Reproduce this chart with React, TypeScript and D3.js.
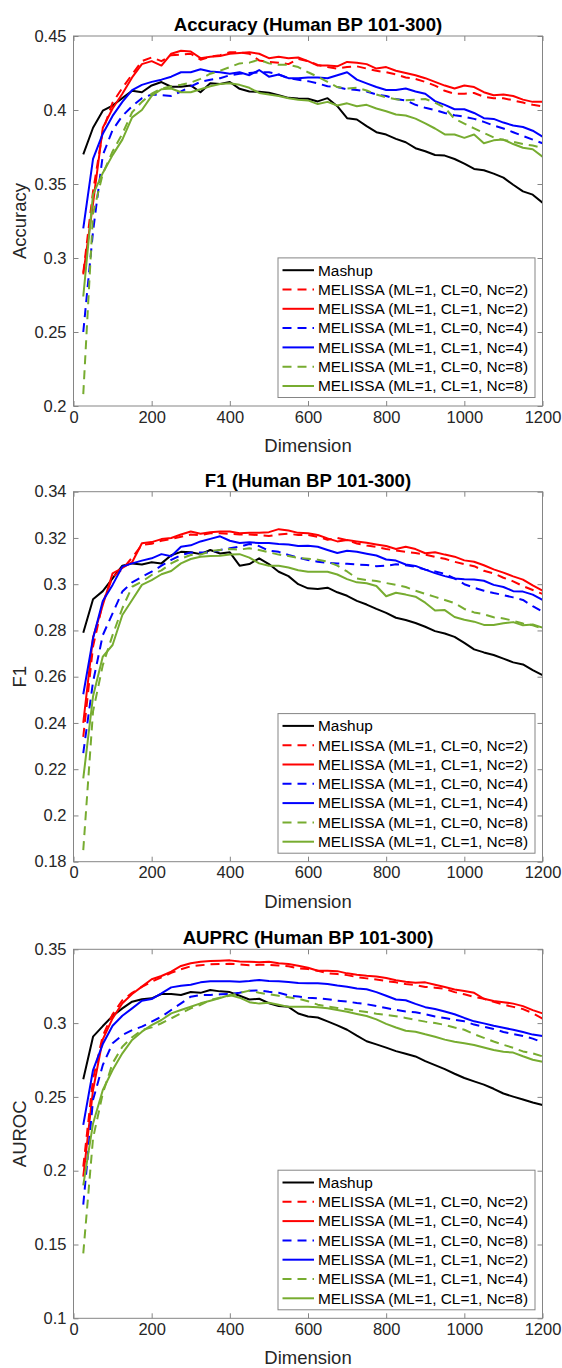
import { useEffect, useRef } from "react";
import * as d3 from "d3";

// ---- data ----
const dims = d3.range(25, 1201, 25);
const xTicks = [0, 200, 400, 600, 800, 1000, 1200];

// Accuracy
const accMashup = [0.370, 0.388, 0.3995, 0.403, 0.408, 0.413, 0.412, 0.4166, 0.4189, 0.4157, 0.4157, 0.4166, 0.412, 0.418, 0.4175, 0.4189, 0.4143, 0.4125, 0.4123, 0.4116, 0.410, 0.4082, 0.4078, 0.4076, 0.4058, 0.408, 0.4026, 0.3945, 0.3936, 0.3891, 0.385, 0.3834, 0.3805, 0.3782, 0.3742, 0.3721, 0.3696, 0.3692, 0.3669, 0.3638, 0.3602, 0.3593, 0.357, 0.3543, 0.3495, 0.345, 0.3428, 0.3374];
const accRedDash = [0.290, 0.345, 0.386, 0.405, 0.415, 0.424, 0.433, 0.4355, 0.433, 0.437, 0.4375, 0.438, 0.434, 0.436, 0.437, 0.439, 0.439, 0.438, 0.4335, 0.4325, 0.432, 0.431, 0.4345, 0.433, 0.4305, 0.429, 0.428, 0.429, 0.4295, 0.428, 0.4265, 0.4255, 0.424, 0.422, 0.421, 0.419, 0.4165, 0.413, 0.411, 0.411, 0.4115, 0.409, 0.408, 0.408, 0.4065, 0.405, 0.4035, 0.4025];
const accRedSolid = [0.289, 0.337, 0.388, 0.401, 0.411, 0.422, 0.431, 0.433, 0.430, 0.438, 0.440, 0.4395, 0.435, 0.436, 0.4365, 0.438, 0.4385, 0.439, 0.438, 0.435, 0.436, 0.435, 0.4355, 0.433, 0.430, 0.430, 0.4295, 0.4325, 0.432, 0.431, 0.428, 0.429, 0.4265, 0.425, 0.4235, 0.4215, 0.419, 0.4165, 0.4145, 0.4165, 0.4155, 0.412, 0.410, 0.4105, 0.4095, 0.407, 0.4055, 0.4055];
const accBlueDash = [0.250, 0.318, 0.3695, 0.3865, 0.396, 0.4025, 0.408, 0.4105, 0.410, 0.4095, 0.4125, 0.416, 0.419, 0.4205, 0.4215, 0.4235, 0.4245, 0.425, 0.4255, 0.4255, 0.424, 0.4215, 0.4205, 0.4195, 0.418, 0.416, 0.4155, 0.414, 0.4135, 0.4125, 0.4105, 0.4095, 0.4075, 0.4065, 0.4035, 0.4015, 0.400, 0.398, 0.3965, 0.3955, 0.394, 0.392, 0.3895, 0.3875, 0.385, 0.3825, 0.380, 0.3775];
const accBlueSolid = [0.320, 0.367, 0.384, 0.396, 0.4055, 0.4135, 0.417, 0.419, 0.4205, 0.4225, 0.4255, 0.4255, 0.4275, 0.426, 0.4255, 0.4245, 0.4255, 0.4235, 0.427, 0.4225, 0.424, 0.4215, 0.4215, 0.422, 0.422, 0.4215, 0.4235, 0.4255, 0.4205, 0.418, 0.4155, 0.4135, 0.4135, 0.4145, 0.4125, 0.411, 0.406, 0.4035, 0.4005, 0.4005, 0.398, 0.3945, 0.394, 0.3915, 0.3895, 0.3885, 0.386, 0.382];
const accGreenDash = [0.208, 0.330, 0.357, 0.372, 0.384, 0.3985, 0.4055, 0.411, 0.4145, 0.416, 0.417, 0.4185, 0.421, 0.4245, 0.4265, 0.429, 0.4315, 0.432, 0.434, 0.4315, 0.4305, 0.4305, 0.429, 0.4255, 0.4225, 0.419, 0.4155, 0.4145, 0.415, 0.4132, 0.4105, 0.4085, 0.4072, 0.4066, 0.407, 0.4074, 0.405, 0.4015, 0.394, 0.3908, 0.3876, 0.3845, 0.3815, 0.3798, 0.3785, 0.377, 0.376, 0.3744];
const accGreenSolid = [0.274, 0.343, 0.3575, 0.3695, 0.380, 0.395, 0.400, 0.4095, 0.414, 0.4145, 0.412, 0.412, 0.414, 0.416, 0.4175, 0.418, 0.417, 0.415, 0.4115, 0.4105, 0.4095, 0.408, 0.407, 0.4065, 0.404, 0.4055, 0.403, 0.4045, 0.4025, 0.4035, 0.401, 0.3992, 0.397, 0.3963, 0.3942, 0.391, 0.3875, 0.3835, 0.3834, 0.3812, 0.3834, 0.3775, 0.3795, 0.380, 0.377, 0.3745, 0.3735, 0.3685];

// F1
const f1Mashup = [0.279, 0.2935, 0.297, 0.3025, 0.308, 0.309, 0.3085, 0.3095, 0.309, 0.3125, 0.314, 0.3138, 0.313, 0.3148, 0.3133, 0.3138, 0.308, 0.3087, 0.3112, 0.3087, 0.3054, 0.3035, 0.300, 0.2982, 0.2979, 0.2985, 0.2965, 0.295, 0.2928, 0.2912, 0.2893, 0.2876, 0.2855, 0.2845, 0.2832, 0.2816, 0.2797, 0.2787, 0.2772, 0.2746, 0.2718, 0.2705, 0.2694, 0.2678, 0.2662, 0.2653, 0.2628, 0.2607];
const f1RedDash = [0.234, 0.273, 0.292, 0.303, 0.3065, 0.3115, 0.317, 0.3175, 0.3188, 0.3195, 0.3205, 0.3215, 0.3212, 0.322, 0.322, 0.3218, 0.3215, 0.3215, 0.3212, 0.3208, 0.3215, 0.3218, 0.3213, 0.3213, 0.3205, 0.3192, 0.320, 0.319, 0.3176, 0.3167, 0.3161, 0.3152, 0.3146, 0.314, 0.3135, 0.3128, 0.3118, 0.311, 0.3097, 0.3087, 0.3078, 0.3058, 0.3047, 0.3028, 0.3012, 0.2992, 0.2975, 0.2958];
const f1RedSolid = [0.240, 0.277, 0.291, 0.3047, 0.307, 0.3095, 0.3177, 0.3182, 0.3195, 0.320, 0.3215, 0.3228, 0.3218, 0.3225, 0.3228, 0.3228, 0.322, 0.3222, 0.3222, 0.3225, 0.3238, 0.3232, 0.3222, 0.322, 0.3213, 0.3198, 0.3185, 0.3191, 0.3185, 0.3179, 0.3172, 0.3165, 0.3152, 0.3162, 0.3152, 0.3134, 0.3138, 0.3128, 0.3119, 0.3103, 0.3097, 0.3082, 0.3064, 0.305, 0.3034, 0.302, 0.2995, 0.2972];
const f1BlueDash = [0.227, 0.2578, 0.278, 0.2874, 0.2968, 0.3008, 0.3032, 0.3054, 0.308, 0.3105, 0.3126, 0.3137, 0.3137, 0.3137, 0.3148, 0.3155, 0.3162, 0.3174, 0.3165, 0.3145, 0.314, 0.3126, 0.3115, 0.3105, 0.3097, 0.3093, 0.309, 0.3088, 0.3085, 0.3083, 0.3078, 0.308, 0.3086, 0.3082, 0.3075, 0.3063, 0.3055, 0.3045, 0.3025, 0.300, 0.2985, 0.2972, 0.2962, 0.2953, 0.2943, 0.2932, 0.2905, 0.2881];
const f1BlueSolid = [0.2524, 0.2766, 0.2927, 0.2997, 0.3076, 0.309, 0.3102, 0.3112, 0.313, 0.3121, 0.3162, 0.3168, 0.3185, 0.3196, 0.3207, 0.3188, 0.3178, 0.3181, 0.3178, 0.3178, 0.3174, 0.3172, 0.3165, 0.3166, 0.3162, 0.3148, 0.3135, 0.3145, 0.314, 0.3132, 0.3124, 0.3107, 0.3102, 0.3085, 0.3079, 0.3063, 0.3048, 0.3035, 0.3025, 0.3021, 0.302, 0.3015, 0.2997, 0.2988, 0.297, 0.2968, 0.2955, 0.2932];
const f1GreenDash = [0.185, 0.245, 0.265, 0.278, 0.2896, 0.2989, 0.3011, 0.304, 0.306, 0.309, 0.3111, 0.3126, 0.3128, 0.3143, 0.3148, 0.3152, 0.315, 0.3155, 0.3148, 0.3138, 0.3128, 0.3122, 0.3114, 0.311, 0.3106, 0.3098, 0.308, 0.3055, 0.3025, 0.3018, 0.3014, 0.3005, 0.2997, 0.2988, 0.2972, 0.2958, 0.2945, 0.2932, 0.2918, 0.2893, 0.2878, 0.287, 0.2857, 0.2852, 0.2842, 0.283, 0.2822, 0.2809];
const f1GreenSolid = [0.216, 0.2515, 0.2687, 0.2737, 0.2867, 0.2932, 0.2997, 0.3018, 0.3043, 0.3057, 0.309, 0.3109, 0.3119, 0.3122, 0.3123, 0.3128, 0.313, 0.3115, 0.309, 0.308, 0.308, 0.3072, 0.306, 0.3054, 0.3054, 0.3054, 0.3042, 0.3022, 0.3008, 0.3004, 0.2992, 0.2948, 0.2963, 0.2955, 0.2946, 0.292, 0.2886, 0.2888, 0.2858, 0.2846, 0.2838, 0.2824, 0.2824, 0.2831, 0.2836, 0.2822, 0.2826, 0.2812];

// AUPRC
const auMashup = [0.262, 0.2908, 0.298, 0.3048, 0.310, 0.3145, 0.3161, 0.3168, 0.3197, 0.3197, 0.319, 0.3211, 0.3205, 0.3224, 0.3215, 0.321, 0.3185, 0.316, 0.3165, 0.3135, 0.3115, 0.311, 0.3065, 0.3045, 0.3038, 0.3012, 0.2985, 0.2955, 0.2915, 0.2877, 0.2856, 0.2834, 0.281, 0.2792, 0.2774, 0.2742, 0.2715, 0.2688, 0.2657, 0.2628, 0.2605, 0.2583, 0.2555, 0.2523, 0.2502, 0.2482, 0.2462, 0.2445];
const auRedDash = [0.2027, 0.262, 0.2915, 0.306, 0.3155, 0.3205, 0.3245, 0.328, 0.331, 0.334, 0.3365, 0.3385, 0.3392, 0.3398, 0.340, 0.3402, 0.3398, 0.3392, 0.3395, 0.3395, 0.339, 0.3385, 0.337, 0.3366, 0.3355, 0.3338, 0.3332, 0.3325, 0.3312, 0.3303, 0.3295, 0.3285, 0.3276, 0.3265, 0.3258, 0.3245, 0.324, 0.3232, 0.321, 0.3195, 0.3178, 0.3165, 0.3145, 0.3125, 0.311, 0.3095, 0.3068, 0.303];
const auRedSolid = [0.196, 0.2547, 0.289, 0.3032, 0.3134, 0.3197, 0.3247, 0.3297, 0.3319, 0.3348, 0.3387, 0.3405, 0.3416, 0.342, 0.3423, 0.3425, 0.3418, 0.3415, 0.3413, 0.3415, 0.3405, 0.340, 0.3389, 0.3375, 0.3355, 0.3354, 0.3352, 0.3337, 0.3327, 0.332, 0.3315, 0.3305, 0.329, 0.328, 0.3274, 0.3276, 0.326, 0.3245, 0.3228, 0.3218, 0.3205, 0.3165, 0.315, 0.3142, 0.3132, 0.3115, 0.3088, 0.3066];
const auBlueDash = [0.177, 0.248, 0.2716, 0.2863, 0.2919, 0.2953, 0.2976, 0.301, 0.3043, 0.3089, 0.3134, 0.3179, 0.319, 0.319, 0.3195, 0.3198, 0.3205, 0.322, 0.3222, 0.3212, 0.3205, 0.3188, 0.318, 0.3172, 0.3168, 0.3162, 0.3152, 0.3146, 0.3136, 0.3128, 0.3115, 0.3102, 0.309, 0.3079, 0.3073, 0.306, 0.3045, 0.3034, 0.3022, 0.3012, 0.299, 0.2975, 0.296, 0.294, 0.2925, 0.2913, 0.2895, 0.287];
const auBlueSolid = [0.231, 0.2682, 0.2858, 0.2982, 0.305, 0.310, 0.3152, 0.3163, 0.3201, 0.3242, 0.3253, 0.326, 0.3276, 0.3283, 0.3283, 0.3283, 0.328, 0.3285, 0.3292, 0.3285, 0.3283, 0.3278, 0.3272, 0.327, 0.327, 0.3265, 0.3254, 0.3246, 0.3235, 0.3229, 0.321, 0.3185, 0.316, 0.3155, 0.313, 0.3108, 0.3095, 0.3078, 0.306, 0.3035, 0.3012, 0.2998, 0.2982, 0.2968, 0.2955, 0.294, 0.2922, 0.2913];
const auGreenDash = [0.144, 0.222, 0.2524, 0.2728, 0.284, 0.2904, 0.2953, 0.2971, 0.2999, 0.3032, 0.3066, 0.310, 0.3123, 0.3157, 0.3172, 0.3185, 0.3205, 0.322, 0.3205, 0.3195, 0.3185, 0.3175, 0.3165, 0.3148, 0.3125, 0.3112, 0.3103, 0.3094, 0.3084, 0.3075, 0.3064, 0.3055, 0.3046, 0.3035, 0.3022, 0.301, 0.300, 0.2988, 0.297, 0.2955, 0.2925, 0.290, 0.2875, 0.2853, 0.2833, 0.2808, 0.2795, 0.2775];
const auGreenSolid = [0.190, 0.232, 0.2547, 0.2682, 0.2795, 0.2886, 0.2942, 0.2987, 0.3021, 0.3066, 0.3089, 0.3111, 0.3134, 0.3152, 0.317, 0.319, 0.3172, 0.3142, 0.3132, 0.3138, 0.3125, 0.311, 0.311, 0.311, 0.3108, 0.310, 0.3089, 0.3077, 0.3062, 0.3048, 0.3025, 0.2995, 0.297, 0.2948, 0.2942, 0.2924, 0.2908, 0.2888, 0.2874, 0.2863, 0.2852, 0.2835, 0.2818, 0.2806, 0.280, 0.2775, 0.2752, 0.2738];

const labelsAF = [
  "Mashup",
  "MELISSA (ML=1, CL=0, Nc=2)",
  "MELISSA (ML=1, CL=1, Nc=2)",
  "MELISSA (ML=1, CL=0, Nc=4)",
  "MELISSA (ML=1, CL=1, Nc=4)",
  "MELISSA (ML=1, CL=0, Nc=8)",
  "MELISSA (ML=1, CL=1, Nc=8)",
];
const labelsAU = [
  "Mashup",
  "MELISSA (ML=1, CL=0, Nc=2)",
  "MELISSA (ML=1, CL=0, Nc=4)",
  "MELISSA (ML=1, CL=0, Nc=8)",
  "MELISSA (ML=1, CL=1, Nc=2)",
  "MELISSA (ML=1, CL=1, Nc=4)",
  "MELISSA (ML=1, CL=1, Nc=8)",
];
const colors = ["#000000", "#ff0000", "#ff0000", "#0000ff", "#0000ff", "#77ac30", "#77ac30"];
const dashed = [false, true, false, true, false, true, false];

// ---- layout ----
const W = 562;
const H = 1368;
const LEFT = 73.5;
const RIGHT = 542.5;
const FONT = "'Liberation Sans', Arial, Helvetica, sans-serif";
const AXIS = "#858585";
const TEXT = "#262626";

function Panel({ id, top, height, title, yLabel, yDomain, yTicks, series, labels }) {
  const gx = useRef(null);
  const gy = useRef(null);
  const gxt = useRef(null);
  const gyr = useRef(null);
  const bottom = top + height;
  const x = d3.scaleLinear([0, 1200], [LEFT, RIGHT]);
  const y = d3.scaleLinear(yDomain, [bottom, top]);
  const line = d3.line((d, i) => x(dims[i]), (d) => y(d));

  useEffect(() => {
    const style = (g) => {
      g.select(".domain").remove();
      g.selectAll("line").attr("stroke", AXIS);
      g.selectAll("text").attr("fill", TEXT).style("font-size", "16.5px").style("font-family", FONT);
    };
    const fmt = (d) => String(+(+d).toFixed(2));
    d3.select(gx.current).call(d3.axisBottom(x).tickValues(xTicks).tickSize(-5).tickPadding(5).tickFormat(fmt)).call(style);
    d3.select(gy.current).call(d3.axisLeft(y).tickValues(yTicks).tickSize(-5).tickPadding(7).tickFormat(fmt)).call(style);
    d3.select(gxt.current).call(d3.axisTop(x).tickValues(xTicks).tickSize(-5).tickFormat(() => "")).call(style);
    d3.select(gyr.current).call(d3.axisRight(y).tickValues(yTicks).tickSize(-5).tickFormat(() => "")).call(style);
  });

  const legTop = bottom - 8.5 - 139.6;
  return (
    <g>
      <defs>
        <clipPath id={`clip-${id}`}>
          <rect x={LEFT} y={top} width={RIGHT - LEFT} height={height} />
        </clipPath>
      </defs>
      <text x={(LEFT + RIGHT) / 2} y={top - 5} textAnchor="middle" fontWeight="bold" fontSize={18.6} fontFamily={FONT} fill="#000">{title}</text>
      <g ref={gx} transform={`translate(0,${bottom})`} />
      <g ref={gy} transform={`translate(${LEFT},0)`} />
      <g ref={gxt} transform={`translate(0,${top})`} />
      <g ref={gyr} transform={`translate(${RIGHT},0)`} />
      <g clipPath={`url(#clip-${id})`} fill="none" strokeWidth={2} strokeLinejoin="round">
        {series.map((s, i) => (
          <path key={i} d={line(s)} stroke={colors[i]} strokeDasharray={dashed[i] ? "9,6" : null} />
        ))}
      </g>
      <rect x={LEFT} y={top} width={RIGHT - LEFT} height={height} fill="none" stroke={AXIS} strokeWidth={1} />
      <text x={(LEFT + RIGHT) / 2} y={bottom + 46} textAnchor="middle" fontSize={18.5} fontFamily={FONT} fill={TEXT}>Dimension</text>
      <text transform={`translate(26,${(top + bottom) / 2}) rotate(-90)`} textAnchor="middle" fontSize={18.5} fontFamily={FONT} fill={TEXT}>{yLabel}</text>
      <g>
        <rect x={278} y={legTop} width={257} height={139.6} fill="#fff" stroke={AXIS} strokeWidth={1} />
        {labels.map((lab, i) => {
          const ly = legTop + 12.3 + i * 19.3;
          return (
            <g key={lab + i}>
              <line x1={282.5} x2={314} y1={ly} y2={ly} stroke={colors[i]} strokeWidth={2} strokeDasharray={dashed[i] ? "9,6" : null} />
              <text x={318} y={ly} dy="0.35em" fontSize={15.4} fontFamily={FONT} fill="#000">{lab}</text>
            </g>
          );
        })}
      </g>
    </g>
  );
}

export default function App() {
  return (
    <svg width={W} height={H} style={{ position: "absolute", left: 0, top: 0, background: "#fff" }}>
      <Panel
        id="acc"
        top={36}
        height={370}
        title="Accuracy (Human BP 101-300)"
        yLabel="Accuracy"
        yDomain={[0.2, 0.45]}
        yTicks={[0.2, 0.25, 0.3, 0.35, 0.4, 0.45]}
        series={[accMashup, accRedDash, accRedSolid, accBlueDash, accBlueSolid, accGreenDash, accGreenSolid]}
        labels={labelsAF}
      />
      <Panel
        id="f1"
        top={491.7}
        height={370}
        title="F1 (Human BP 101-300)"
        yLabel="F1"
        yDomain={[0.18, 0.34]}
        yTicks={[0.18, 0.2, 0.22, 0.24, 0.26, 0.28, 0.3, 0.32, 0.34]}
        series={[f1Mashup, f1RedDash, f1RedSolid, f1BlueDash, f1BlueSolid, f1GreenDash, f1GreenSolid]}
        labels={labelsAF}
      />
      <Panel
        id="au"
        top={949.3}
        height={369}
        title="AUPRC (Human BP 101-300)"
        yLabel="AUROC"
        yDomain={[0.1, 0.35]}
        yTicks={[0.1, 0.15, 0.2, 0.25, 0.3, 0.35]}
        series={[auMashup, auRedDash, auRedSolid, auBlueDash, auBlueSolid, auGreenDash, auGreenSolid]}
        labels={labelsAU}
      />
    </svg>
  );
}
